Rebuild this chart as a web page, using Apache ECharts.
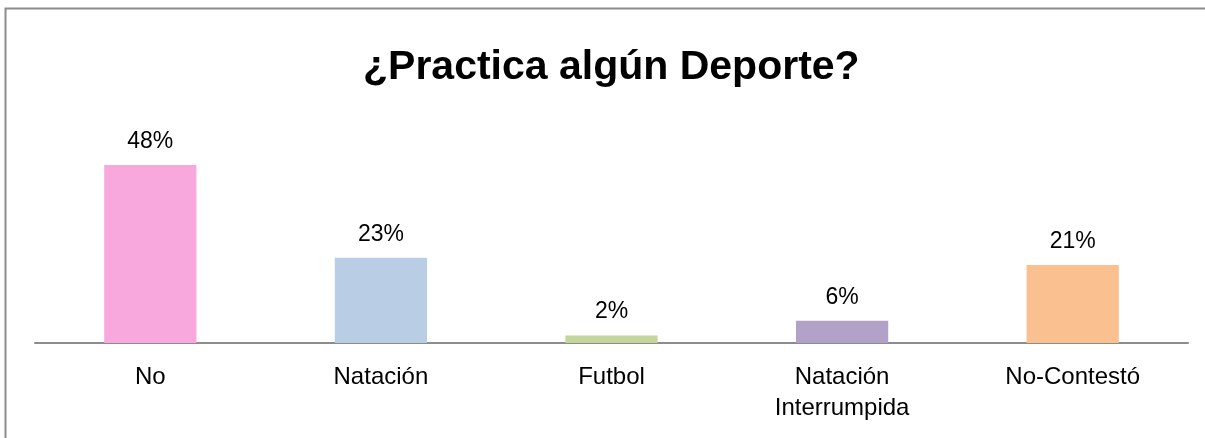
<!DOCTYPE html>
<html><head><meta charset="utf-8">
<script src="https://cdn.jsdelivr.net/npm/echarts@6/dist/echarts.min.js"></script>
<style>html,body{margin:0;padding:0;background:#fff}#c{width:1205px;height:438px}</style>
</head><body><div id="c"></div>
<script>
const title = '¿Practica algún Deporte?';
const categories = ['No', 'Natación', 'Futbol', 'Natación\nInterrumpida', 'No-Contestó'];
const values = [48, 23, 2, 6, 21];
const colors = ['#F9A8DE', '#B9CDE5', '#C3D69B', '#B3A2C7', '#FAC090'];

const chart = echarts.init(document.getElementById('c'), null, {renderer: 'canvas'});
chart.setOption({
  animation: false,
  title: {
    text: title, left: 358, top: 42,
    textStyle: {fontFamily: 'Liberation Sans', fontWeight: 'bold', fontSize: 41, color: '#000'}
  },
  graphic: [{
    type: 'rect', shape: {x: 5.5, y: 8.5, width: 1300, height: 500},
    style: {fill: 'none', stroke: '#8c8c8c', lineWidth: 2}, silent: true
  }],
  grid: {left: 35, right: 17, top: 157.5, bottom: 95, containLabel: false},
  xAxis: {
    type: 'category', data: categories,
    axisLine: {lineStyle: {color: '#8c8c8c', width: 2}},
    axisTick: {show: false},
    axisLabel: {color: '#000', fontFamily: 'Liberation Sans', fontSize: 24, margin: 19, lineHeight: 31, interval: 0}
  },
  yAxis: {type: 'value', min: 0, max: 50, show: false, splitLine: {show: false}},
  series: [{
    type: 'bar', barWidth: '40%',
    data: values.map((v, i) => ({value: v, itemStyle: {color: colors[i]}})),
    label: {show: true, position: 'top', distance: 12, formatter: p => p.value + '%',
      color: '#000', fontFamily: 'Liberation Sans', fontSize: 23}
  }]
});
</script></body></html>
